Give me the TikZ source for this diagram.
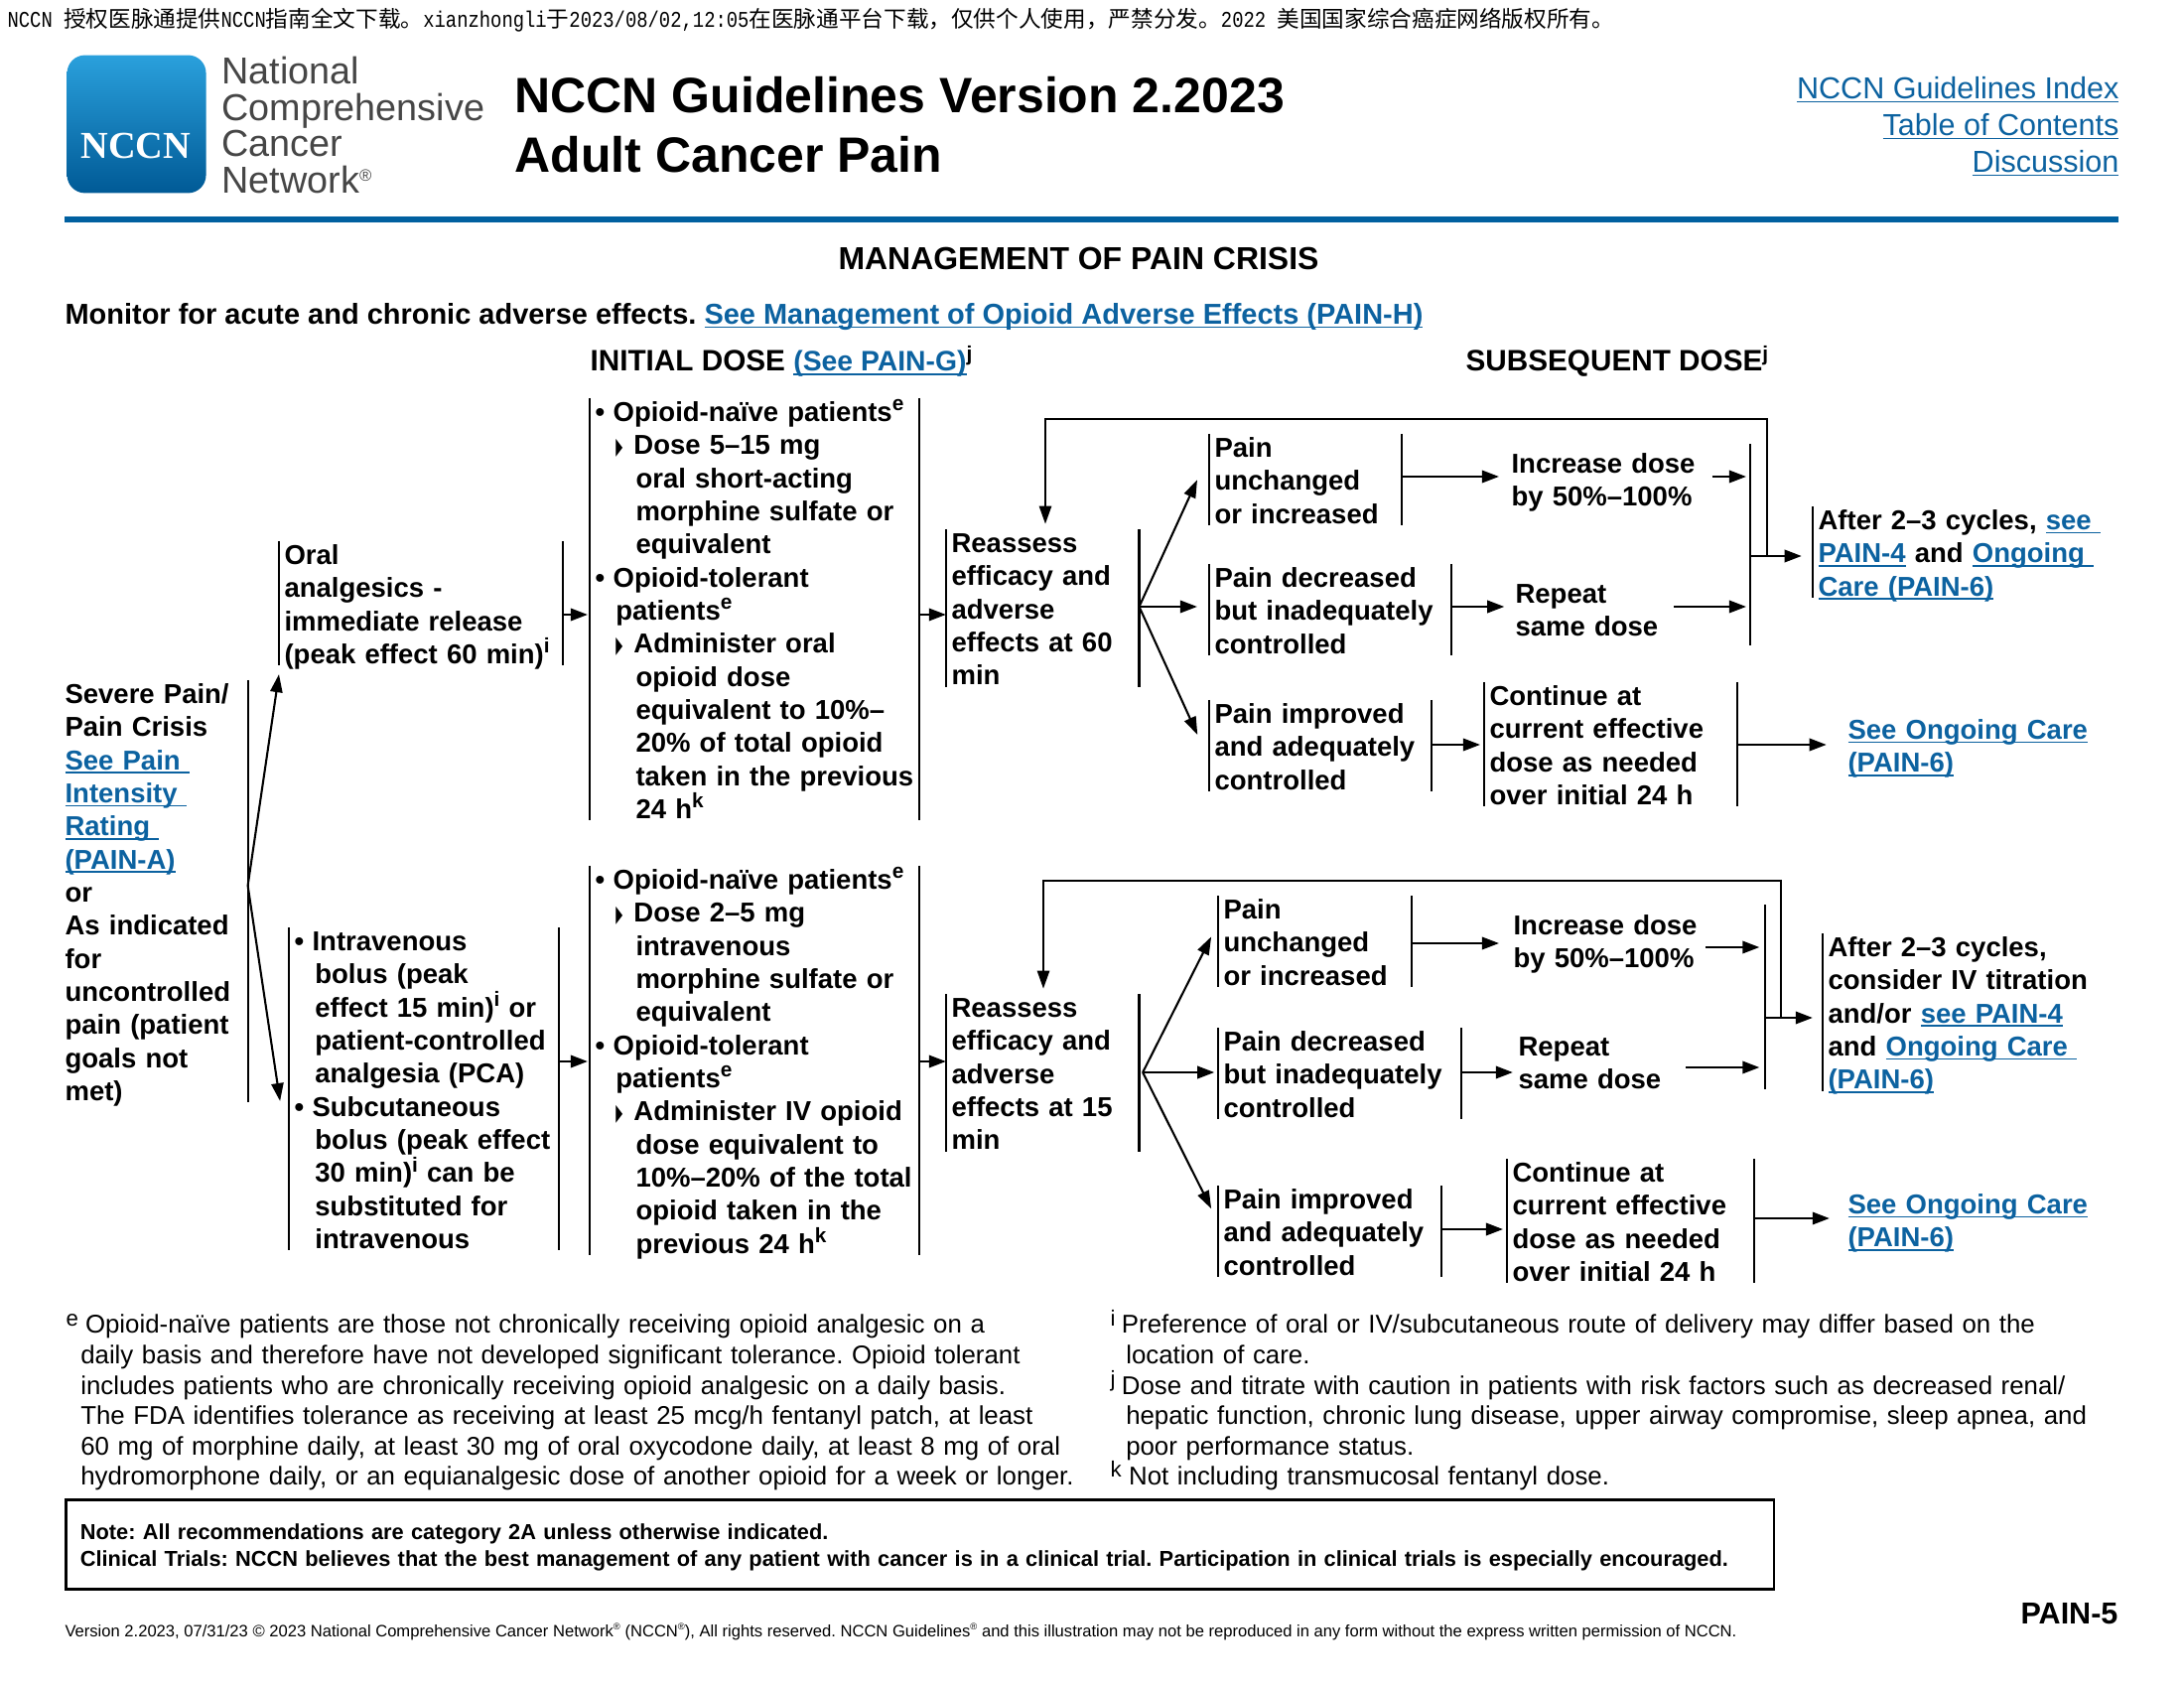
\documentclass[tikz,border=0pt]{standalone}
\usepackage{fontspec}
\setmainfont{Liberation Sans}
\newfontfamily\cjk{Noto Sans CJK SC}
\newfontfamily\wmfont[FakeStretch=0.833]{Liberation Mono}
\newfontfamily\trifont[FakeStretch=0.38]{DejaVu Sans}
\newfontfamily\serifb{Liberation Serif}
\usetikzlibrary{arrows.meta}

\definecolor{linkblue}{RGB}{12,98,160}
\definecolor{rulecol}{RGB}{0,96,160}
\definecolor{logotop}{RGB}{42,160,220}
\definecolor{logobot}{RGB}{0,90,150}
\definecolor{logogray}{RGB}{70,70,70}

\newcommand{\bodyfont}{\fontsize{9.9}{12}\selectfont\bfseries\frenchspacing}
\newcommand{\lnk}[1]{\textcolor{linkblue}{\setbox0\hbox{#1}\rlap{\rule[-1.4pt]{\wd0}{0.65pt}}\box0}}
\newcommand{\sups}[1]{\smash{\raisebox{3.85pt}{\fontsize{7.5}{8}\selectfont #1}}}
\newcommand{\nsup}[1]{\smash{\raisebox{2.8pt}{\fontsize{8}{8}\selectfont #1}}}
\newcommand{\regmark}{\smash{\raisebox{4.6pt}{\fontsize{6}{6}\selectfont ®}}}
\newcommand{\footreg}{\smash{\raisebox{2.2pt}{\fontsize{3.4}{4}\selectfont ®}}}
\newcommand{\bulitem}{\makebox[6.5pt][l]{•}}
\newcommand{\indA}{\hspace*{7.5pt}}
\newcommand{\indB}{\hspace*{14.75pt}}
\newcommand{\triitem}{\indA\makebox[6.5pt][l]{\trifont\fontsize{8.5}{8.5}\selectfont ▶}}

\tikzset{
  barline/.style={line width=.75pt},
  bodytext/.style={font=\bodyfont,inner xsep=1.8pt,inner ysep=0pt,anchor=north west,align=left,yshift=-.25pt,
    execute at begin node=\strut,execute at end node=\strut},
  barw/.style={text width=#1*.36pt-3.6pt},
  leftbar/.style={append after command={\pgfextra{\draw[barline] ([yshift=-.11pt]\tikzlastnode.north west) -- ([yshift=3.15pt]\tikzlastnode.south west);}}},
  rightbar/.style={append after command={\pgfextra{\draw[barline] ([yshift=-.11pt]\tikzlastnode.north east) -- ([yshift=3.15pt]\tikzlastnode.south east);}}},
  lrbars/.style={leftbar,rightbar},
  arr/.style={line width=1pt,-{Triangle[length=6.2pt,width=4.4pt]}},
  fanarr/.style={line width=.75pt,-{Triangle[length=6.5pt,width=4.4pt]}},
  notetext/.style={font=\fontsize{9.3}{11}\selectfont\frenchspacing,inner sep=0pt,anchor=north west,align=left,text width=395pt,
    execute at begin node=\strut,execute at end node=\strut},
  toplink/.style={font=\fontsize{11}{13}\selectfont,inner sep=0pt,anchor=base east},
  headtext/.style={font=\fontsize{10.43}{12}\selectfont\bfseries\frenchspacing,inner sep=0pt,anchor=base west},
  logoword/.style={inner sep=0pt,anchor=base west,text=logogray,font=\fontsize{13.6}{14}\selectfont},
}

\begin{document}
\begin{tikzpicture}[x=.36pt,y=-.36pt]
\useasboundingbox (0,0) rectangle (2200,1700);

\node[inner sep=0pt,anchor=base west,font=\fontsize{8.15}{9}\selectfont] (wm) at (7,27.5) {{\wmfont NCCN }{\cjk 授权医脉通提供}{\wmfont NCCN}{\cjk 指南全文下载。}{\wmfont xianzhongli}{\cjk 于}{\wmfont 2023/08/02,12:05}{\cjk 在医脉通平台下载，仅供个人使用，严禁分发。}{\wmfont 2022 }{\cjk 美国国家综合癌症网络版权所有。}};

% header
\node[inner sep=0pt,anchor=north west,minimum width=50.4pt,minimum height=50pt,rounded corners=6.5pt,top color=logotop,bottom color=logobot] (logo) at (67,55) {};
\node[inner sep=0pt,anchor=base,text=white,font=\serifb\bfseries\fontsize{13.8}{14}\selectfont] (logoname) at (137,159.5) {NCCN};
\node[logoword] (lg1) at (223,85) {National};
\node[logoword] (lg2) at (223,122) {Comprehensive};
\node[logoword] (lg3) at (223,158) {Cancer};
\node[logoword] (lg4) at (223,195) {Network\regmark};
\node[inner sep=0pt,anchor=base west,font=\fontsize{18}{21}\selectfont\bfseries] (title1) at (518,113.5) {NCCN Guidelines Version 2.2023};
\node[inner sep=0pt,anchor=base west,font=\fontsize{18}{21}\selectfont\bfseries] (title2) at (518,173.5) {Adult Cancer Pain};
\node[toplink] (idx) at (2135,99.5) {\lnk{NCCN Guidelines Index}};
\node[toplink] (toc) at (2135,136.5) {\lnk{Table of Contents}};
\node[toplink] (disc) at (2135,173.5) {\lnk{Discussion}};
\fill[rulecol] (65,218) rectangle (2134,224);

\node[inner sep=0pt,anchor=base west,font=\fontsize{11.5}{13}\selectfont\bfseries] (maintitle) at (844,272) {MANAGEMENT OF PAIN CRISIS};
\node[headtext] (monitor) at (65,326.5) {Monitor for acute and chronic adverse effects. \lnk{See Management of Opioid Adverse Effects (PAIN-H)}};
\node[headtext] (initial) at (594,374) {\fontsize{10.7}{12}\selectfont INITIAL DOSE \fontsize{10.2}{12}\selectfont\lnk{(See PAIN-G)}\sups{j}};
\node[headtext] (subseq) at (1476,374) {\fontsize{10.7}{12}\selectfont SUBSEQUENT DOSE\sups{j}};

\node[bodytext,barw=188.5,rightbar] (sev) at (60,684) {Severe Pain/\\ Pain Crisis\\ \lnk{See Pain\ }\\ \lnk{Intensity\ }\\ \lnk{Rating\ }\\ \lnk{(PAIN-A)}\\ or\\ As indicated\\ for\\ uncontrolled\\ pain (patient\\ goals not\\ met)};

% first row
\coordinate (rowA) at (0,619);
\coordinate (rowPuA) at (0,480);
\coordinate (rowPdA) at (0,611);
\coordinate (rowPiA) at (0,750);
\coordinate (mergeAt) at (1763,447);
\coordinate (mergeAb) at (1763,650);
\coordinate (joinA) at (1780,560);
\coordinate (loopA) at (1053,422);

\node[bodytext,barw=284.5,lrbars] (oral) at (281,544) {Oral\\ analgesics -\\ immediate release\\ (peak effect 60 min)\sups{i}};
\node[bodytext,barw=330.5,lrbars] (doseA) at (594,400) {\bulitem Opioid-naïve patients\sups{e}\\ \triitem Dose 5–15 mg\\ \indB oral short-acting\\ \indB morphine sulfate or\\ \indB equivalent\\ \bulitem Opioid-tolerant\\ \indA patients\sups{e}\\ \triitem Administer oral\\ \indB opioid dose\\ \indB equivalent to 10\%–\\ \indB 20\% of total opioid\\ \indB \mbox{taken in the previous}\\ \indB 24 h\sups{k}};
\node[bodytext,barw=193.4,lrbars] (reA) at (953,532) {Reassess\\ efficacy and\\ adverse\\ effects at 60\\ min};
\node[bodytext,barw=193,lrbars] (puA) at (1218,436) {Pain\\ unchanged\\ or increased};
\node[bodytext,barw=243,lrbars] (pdA) at (1218,567) {Pain decreased\\ but inadequately\\ controlled};
\node[bodytext,barw=223,lrbars] (piA) at (1218,704) {Pain improved\\ and adequately\\ controlled};
\node[bodytext,barw=206.6] (incA) at (1517,452) {Increase dose\\ by 50\%–100\%};
\node[bodytext,barw=164] (repA) at (1521,583) {Repeat\\ same dose};
\node[bodytext,barw=253.6,lrbars] (contA) at (1495,686) {Continue at\\ current effective\\ dose as needed\\ over initial 24 h};
\node[bodytext,barw=270] (goA) at (1856,720) {\lnk{See Ongoing Care}\\ \lnk{(PAIN-6)}};
\node[bodytext,barw=305,leftbar] (afterA) at (1826,509) {After 2–3 cycles, \lnk{see\ }\\ \lnk{PAIN-4} and \lnk{Ongoing\ }\\ \lnk{Care (PAIN-6)}};

\draw[barline] (mergeAt) -- (mergeAb);
\draw[fanarr] ([yshift=3.6pt]sev.east) -- (oral.south west);
\draw[arr,shorten >=.7pt] (oral.east |- rowA) -- (doseA.west |- rowA);
\draw[arr] (doseA.east |- rowA) -- (reA.west |- rowA);
\draw[fanarr,shorten >=10.4pt] (reA.east |- rowPdA) -- ([yshift=10.9pt]puA.west);
\draw[arr,shorten >=4.3pt] (reA.east |- rowPdA) -- (pdA.west |- rowPdA);
\draw[fanarr,shorten >=10.2pt] (reA.east |- rowPdA) -- ([yshift=-3.8pt]piA.west);
\draw[arr,shorten >=2.5pt] (puA.east |- rowPuA) -- (incA.west |- rowPuA);
\draw[arr,shorten >=1.4pt] (incA.east |- rowPuA) -- (mergeAt |- rowPuA);
\draw[arr,shorten >=2pt] (pdA.east |- rowPdA) -- (repA.west |- rowPdA);
\draw[arr,shorten >=1.4pt] (repA.east |- rowPdA) -- (mergeAt |- rowPdA);
\draw[arr,shorten >=1.4pt] (piA.east |- rowPiA) -- (contA.west |- rowPiA);
\draw[arr,shorten >=5.8pt] (contA.east |- rowPiA) -- (goA.west |- rowPiA);
\draw[arr,shorten >=4pt] (mergeAt |- joinA) -- (afterA.west |- joinA);
\draw[fanarr,shorten >=1.8pt] (joinA) |- (loopA) -- (loopA |- reA.north);

% second row
\coordinate (rowB) at (0,1069);
\coordinate (rowPuB) at (0,950);
\coordinate (rowIncB) at (0,954);
\coordinate (rowPdB) at (0,1080);
\coordinate (rowRepB) at (0,1075);
\coordinate (rowPiB) at (0,1238);
\coordinate (rowGoB) at (0,1227);
\coordinate (mergeBt) at (1778,911);
\coordinate (mergeBb) at (1778,1097);
\coordinate (joinB) at (1794,1025);
\coordinate (loopB) at (1051,887);

\node[bodytext,barw=271,lrbars] (iv) at (291,933) {\bulitem Intravenous\\ \indA bolus (peak\\ \indA effect 15 min)\sups{i} or\\ \indA patient-controlled\\ \indA analgesia (PCA)\\ \bulitem Subcutaneous\\ \indA bolus (peak effect\\ \indA 30 min)\sups{i} can be\\ \indA substituted for\\ \indA intravenous};
\node[bodytext,barw=330.5,lrbars] (doseB) at (594,871) {\bulitem Opioid-naïve patients\sups{e}\\ \triitem Dose 2–5 mg\\ \indB intravenous\\ \indB morphine sulfate or\\ \indB equivalent\\ \bulitem Opioid-tolerant\\ \indA patients\sups{e}\\ \triitem Administer IV opioid\\ \indB dose equivalent to\\ \indB 10\%–20\% of the total\\ \indB opioid taken in the\\ \indB previous 24 h\sups{k}};
\node[bodytext,barw=193.4,lrbars] (reB) at (953,1000) {Reassess\\ efficacy and\\ adverse\\ effects at 15\\ min};
\node[bodytext,barw=194,lrbars] (puB) at (1227,901) {Pain\\ unchanged\\ or increased};
\node[bodytext,barw=244,lrbars] (pdB) at (1227,1034) {Pain decreased\\ but inadequately\\ controlled};
\node[bodytext,barw=224,lrbars] (piB) at (1227,1193) {Pain improved\\ and adequately\\ controlled};
\node[bodytext,barw=198] (incB) at (1519,917) {Increase dose\\ by 50\%–100\%};
\node[bodytext,barw=173] (repB) at (1524,1039) {Repeat\\ same dose};
\node[bodytext,barw=248,lrbars] (contB) at (1518,1166) {Continue at\\ current effective\\ dose as needed\\ over initial 24 h};
\node[bodytext,barw=270] (goB) at (1856,1198) {\lnk{See Ongoing Care}\\ \lnk{(PAIN-6)}};
\node[bodytext,barw=295,leftbar] (afterB) at (1836,939) {After 2–3 cycles,\\ consider IV titration\\ and/or \lnk{see PAIN-4}\\ and \lnk{Ongoing Care\ }\\ \lnk{(PAIN-6)}};

\draw[barline] (mergeBt) -- (mergeBb);
\draw[fanarr] ([yshift=3.6pt]sev.east) -- ([xshift=-3.2pt,yshift=-2.9pt]iv.west);
\draw[arr,shorten >=.7pt] (iv.east |- rowB) -- (doseB.west |- rowB);
\draw[arr] (doseB.east |- rowB) -- (reB.west |- rowB);
\draw[fanarr,shorten >=5.5pt] ([xshift=1.3pt]reB.east |- rowPdB) -- ([yshift=8.1pt]puB.west);
\draw[arr,shorten >=1.3pt] ([xshift=1.3pt]reB.east |- rowPdB) -- (pdB.west |- rowPdB);
\draw[fanarr,shorten >=5.5pt] ([xshift=1.3pt]reB.east |- rowPdB) -- ([yshift=4.8pt]piB.west);
\draw[arr,shorten >=3.2pt] (puB.east |- rowPuB) -- (incB.west |- rowPuB);
\draw[arr,shorten >=2pt] (incB.east |- rowIncB) -- (mergeBt |- rowIncB);
\draw[arr] (pdB.east |- rowPdB) -- (repB.west |- rowPdB);
\draw[arr,shorten >=2pt] (repB.east |- rowRepB) -- (mergeBt |- rowRepB);
\draw[arr,shorten >=1.4pt] (piB.east |- rowPiB) -- (contB.west |- rowPiB);
\draw[arr,shorten >=4.7pt] (contB.east |- rowGoB) -- (goB.west |- rowGoB);
\draw[arr,shorten >=3.6pt] (mergeBt |- joinB) -- (afterB.west |- joinB);
\draw[fanarr,shorten >=1.8pt] (joinB) |- (loopB) -- (loopB |- reB.north);

% footnotes
\node[notetext] (noteE) at (66,1321) {\makebox[7pt][l]{\nsup{e}}Opioid-naïve patients are those not chronically receiving opioid analgesic on a\\ \hspace*{5.3pt}daily basis and therefore have not developed significant tolerance. Opioid tolerant\\ \hspace*{5.3pt}includes patients who are chronically receiving opioid analgesic on a daily basis.\\ \hspace*{5.3pt}The FDA identifies tolerance as receiving at least 25 mcg/h fentanyl patch, at least\\ \hspace*{5.3pt}60 mg of morphine daily, at least 30 mg of oral oxycodone daily, at least 8 mg of oral\\ \hspace*{5.3pt}hydromorphone daily, or an equianalgesic dose of another opioid for a week or longer.};
\node[notetext] (noteI) at (1118,1321) {\makebox[4.1pt][l]{\nsup{i}}Preference of oral or IV/subcutaneous route of delivery may differ based on the\\ \hspace*{5.65pt}location of care.\\ \makebox[4.1pt][l]{\nsup{j}}Dose and titrate with caution in patients with risk factors such as decreased renal/\\ \hspace*{5.65pt}hepatic function, chronic lung disease, upper airway compromise, sleep apnea, and\\ \hspace*{5.65pt}poor performance status.\\ \makebox[6.7pt][l]{\nsup{k}}Not including transmucosal fentanyl dose.};

\node[draw,line width=1pt,inner ysep=0pt,inner xsep=5.2pt,anchor=north west,align=left,text width=609pt,font=\fontsize{7.85}{9.7}\selectfont\bfseries\frenchspacing] (notebox) at (65,1509) {\rule{0pt}{14.4pt}Note: All recommendations are category 2A unless otherwise indicated.\\ Clinical Trials: NCCN believes that the best management of any patient with cancer is in a clinical trial. Participation in clinical trials is especially encouraged.\rule[-8.3pt]{0pt}{8.3pt}};

\node[inner sep=0pt,anchor=base west,font=\fontsize{5.97}{7}\selectfont\frenchspacing] (footer) at (65,1648) {Version 2.2023, 07/31/23 © 2023 National Comprehensive Cancer Network\footreg{} (NCCN\footreg), All rights reserved. NCCN Guidelines\footreg{} and this illustration may not be reproduced in any form without the express written permission of NCCN.};
\node[inner sep=0pt,anchor=base east,font=\fontsize{11}{13}\selectfont\bfseries] (pageno) at (2134,1635) {PAIN-5};
\end{tikzpicture}
\end{document}
